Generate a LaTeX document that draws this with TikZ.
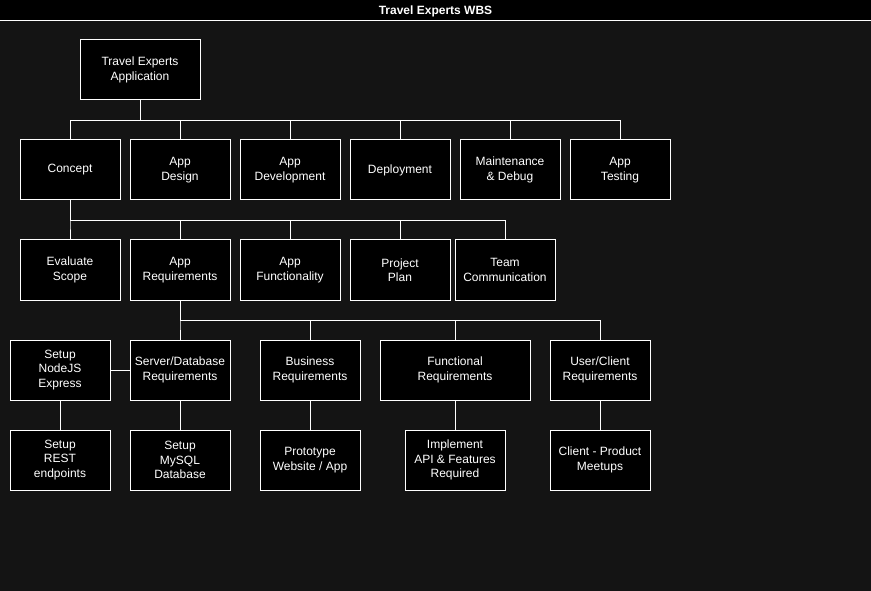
\documentclass[tikz,border=0pt]{standalone}
\usepackage{fontspec}
\setmainfont{Liberation Sans}
\begin{document}
\begin{tikzpicture}[x=1pt,y=-1pt,
  wbs/.style={draw=white,fill=black,line width=1pt,text=white,align=center,
    font=\fontsize{12}{14.5}\selectfont,inner sep=0pt},
  link/.style={draw=white,line width=1pt}]
\useasboundingbox (0,0) rectangle (871,591);
\fill[fill={rgb,255:red,20;green,20;blue,20}] (0,0) rectangle (871,591);
\fill[black] (0,0) rectangle (871,20);
\draw[white,line width=1.2pt] (0,20.5) -- (871,20.5);
\node[text=white,font=\bfseries\fontsize{12}{13}\selectfont] (title) at (435.5,11) {Travel Experts WBS};
% root
\node[wbs,minimum width=120pt,minimum height=60pt] (root) at (140,70) {Travel Experts\\Application};
% row 1
\foreach \n/\x/\t in {concept/70/Concept, design/180/{App\\Design}, dev/290/{App\\Development},
  deploy/400/Deployment, maint/510/{Maintenance\\\& Debug}, test/620/{App\\Testing}}
  \node[wbs,minimum width=100pt,minimum height=60pt] (\n) at (\x,170) {\t};
% row 2
\foreach \n/\x/\t in {scope/70/{Evaluate\\Scope}, req/180/{App\\Requirements}, func/290/{App\\Functionality},
  plan/400/{Project\\Plan}, team/505/{Team\\Communication}}
  \node[wbs,minimum width=100pt,minimum height=60pt] (\n) at (\x,270) {\t};
% row 3
\node[wbs,minimum width=100pt,minimum height=60pt] (node) at (60,370) {Setup\\NodeJS\\Express};
\node[wbs,minimum width=100pt,minimum height=60pt] (server) at (180,370) {Server/Database\\Requirements};
\node[wbs,minimum width=100pt,minimum height=60pt] (bus) at (310,370) {Business\\Requirements};
\node[wbs,minimum width=150pt,minimum height=60pt] (funcreq) at (455,370) {Functional\\Requirements};
\node[wbs,minimum width=100pt,minimum height=60pt] (user) at (600,370) {User/Client\\Requirements};
% row 4
\node[wbs,minimum width=100pt,minimum height=60pt] (rest) at (60,460) {Setup\\REST\\endpoints};
\node[wbs,minimum width=100pt,minimum height=60pt] (mysql) at (180,460) {Setup\\MySQL\\Database};
\node[wbs,minimum width=100pt,minimum height=60pt] (proto) at (310,460) {Prototype\\Website / App};
\node[wbs,minimum width=100pt,minimum height=60pt] (impl) at (455,460) {Implement\\API \& Features\\Required};
\node[wbs,minimum width=100pt,minimum height=60pt] (meet) at (600,460) {Client - Product\\Meetups};
% connectors
\foreach \c in {concept,design,dev,deploy,maint,test}
  \draw[link] (root.south) -- ++(0,20) -| (\c.north);
\foreach \c in {scope,req,func,plan,team}
  \draw[link] (concept.south) -- ++(0,20) -| (\c.north);
\foreach \c in {server,bus,funcreq,user}
  \draw[link] (req.south) -- ++(0,20) -| (\c.north);
\draw[link] (node.east) -- (server.west);
\draw[link] (node.south) -- (rest.north);
\draw[link] (server.south) -- (mysql.north);
\draw[link] (bus.south) -- (proto.north);
\draw[link] (funcreq.south) -- (impl.north);
\draw[link] (user.south) -- (meet.north);
\end{tikzpicture}
\end{document}
